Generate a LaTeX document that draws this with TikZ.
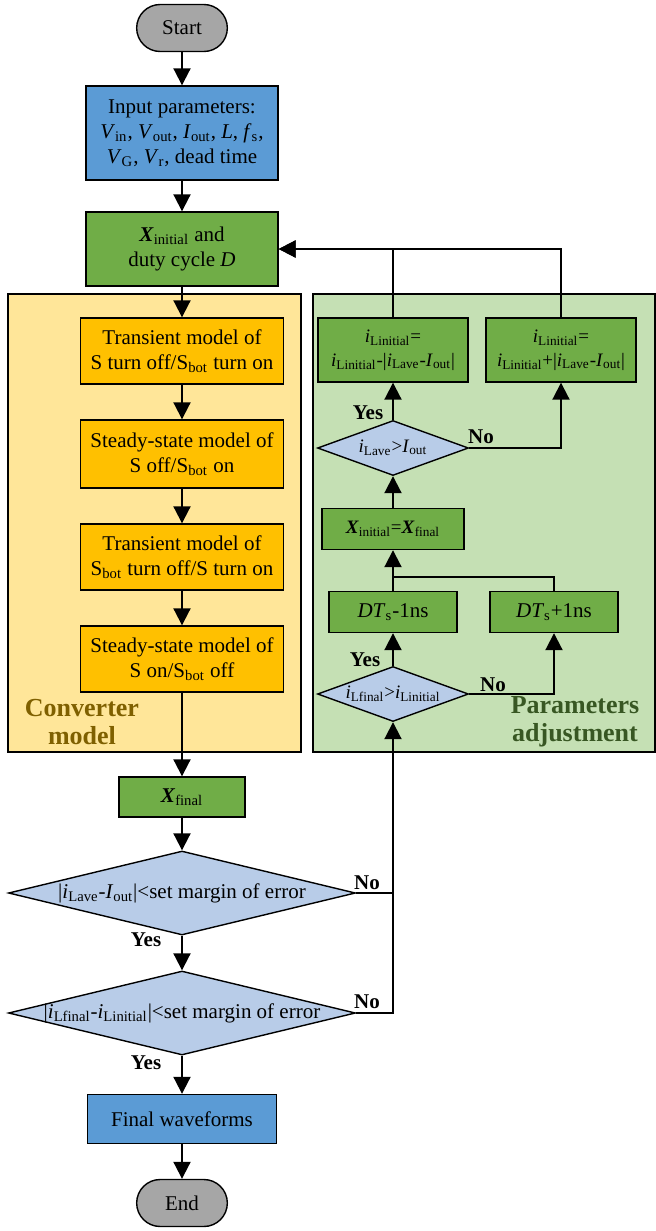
\documentclass[tikz,border=0pt]{standalone}
\usepackage{fontspec}
\setmainfont{Liberation Serif}
\usetikzlibrary{shapes.geometric,shapes.misc,arrows.meta}
\definecolor{termgray}{HTML}{A6A6A6}
\definecolor{inblue}{HTML}{5B9BD5}
\definecolor{stepgreen}{HTML}{70AD47}
\definecolor{modorange}{HTML}{FFC000}
\definecolor{convyellow}{HTML}{FFE699}
\definecolor{adjgreen}{HTML}{C5E0B4}
\definecolor{decblue}{HTML}{B8CCE8}
\definecolor{convtext}{HTML}{7F6000}
\definecolor{adjtext}{HTML}{385723}
\newcommand{\iL}[1]{\textit{i}\textsubscript{L#1}}
\newcommand{\Xb}[1]{\textbf{\textit{X}}\textsubscript{#1}}
\newcommand{\Iout}{\textit{I}\textsubscript{out}}
\begin{document}
\begin{tikzpicture}[>={Triangle[width=8.5pt,length=8.5pt]}, x=0.5pt, y=-0.5pt, line width=1pt]
\tikzstyle{every node}=[font=\fontsize{10.5}{12.5}\selectfont, line width=0.7pt]
\tikzstyle{term}=[rounded rectangle, draw, fill=termgray, minimum width=52pt, minimum height=23.5pt]
\tikzstyle{box}=[rectangle, draw, align=center, inner sep=1pt]
\tikzstyle{decide}=[diamond, draw, fill=decblue, inner sep=0pt, aspect=3]
\tikzstyle{panel}=[rectangle, draw, line width=1pt]
\tikzstyle{lbl}=[font=\fontsize{10.5}{12.5}\selectfont\bfseries, inner sep=0pt]
\tikzstyle{small}=[font=\fontsize{9.5}{12}\selectfont]
\useasboundingbox (0,0) rectangle (656,1231);
% panels
\node[panel, fill=convyellow, minimum width=146.5pt, minimum height=229pt](conv) at (154.5,523) {};
\node[panel, fill=adjgreen, minimum width=171pt, minimum height=229pt](adj) at (484,523) {};
\node[font=\fontsize{13}{14}\selectfont\bfseries, text=convtext, align=center](convlbl) at (82,722) {Converter\\model};
\node[font=\fontsize{13}{14}\selectfont\bfseries, text=adjtext, align=center](adjlbl) at (575,722) {Parameters\\adjustment};
%
\node[term](start) at (182,28) {Start};
\node[box, fill=inblue, minimum width=96pt, minimum height=47pt](input) at (182,133) {Input parameters:\\\textit{V}\textsubscript{in}, \textit{V}\textsubscript{out}, \Iout, \textit{L}, \textit{f}\textsubscript{s},\\\textit{V}\textsubscript{G}, \textit{V}\textsubscript{r}, dead time};
\node[box, fill=stepgreen, minimum width=96pt, minimum height=37pt](xinit) at (182,249) {\Xb{initial} and\\duty cycle \textit{D}};
%
\node[box, fill=modorange, minimum width=101.5pt, minimum height=33pt](m1) at (182,351) {Transient model of\\S turn off/S\textsubscript{bot} turn on};
\node[box, fill=modorange, minimum width=101.5pt, minimum height=34pt](m2) at (182,454) {Steady-state model of\\S off/S\textsubscript{bot} on};
\node[box, fill=modorange, minimum width=101.5pt, minimum height=33pt](m3) at (182,557) {Transient model of\\S\textsubscript{bot} turn off/S turn on};
\node[box, fill=modorange, minimum width=101.5pt, minimum height=33pt](m4) at (182,659) {Steady-state model of\\S on/S\textsubscript{bot} off};
%
\node[box, fill=stepgreen, minimum width=63pt, minimum height=20pt](xfin) at (182,797) {\Xb{final}};
\node[decide, minimum width=173.5pt, minimum height=42pt](d1) at (182,893) {\makebox[0pt]{|\iL{ave}-\Iout|<set margin of error}};
\node[decide, minimum width=173.5pt, minimum height=42pt](d2) at (182,1013) {\makebox[0pt]{|\iL{final}-\iL{initial}|<set margin of error}};
\node[box, fill=inblue, minimum width=94.5pt, minimum height=24.5pt](wave) at (182,1119) {Final waveforms};
\node[term](stop) at (182,1203) {End};
%
\node[box, small, fill=stepgreen, minimum width=75pt, minimum height=32pt](lm) at (393,350) {\iL{initial}=\\\iL{initial}-|\iL{ave}-\Iout|};
\node[box, small, fill=stepgreen, minimum width=75pt, minimum height=32pt](lp) at (561,350) {\iL{initial}=\\\iL{initial}+|\iL{ave}-\Iout|};
\node[decide, small, minimum width=75.5pt, minimum height=27.5pt](dave) at (393,448) {\makebox[0pt]{\iL{ave}>\Iout}};
\node[box, small, fill=stepgreen, minimum width=71pt, minimum height=20.5pt](xeq) at (393,529) {\Xb{initial}=\Xb{final}};
\node[box, fill=stepgreen, minimum width=64pt, minimum height=20.5pt](dtm) at (393,612) {\textit{DT}\textsubscript{s}-1ns};
\node[box, fill=stepgreen, minimum width=64pt, minimum height=20.5pt](dtp) at (554,612) {\textit{DT}\textsubscript{s}+1ns};
\node[decide, small, minimum width=75.5pt, minimum height=27.5pt](dfin) at (393,694) {\makebox[0pt]{\iL{final}>\iL{initial}}};
%
\node[lbl](y1) at (146,940) {Yes};
\node[lbl](y2) at (146,1063) {Yes};
\node[lbl](n1) at (367,883) {No};
\node[lbl](n2) at (367,1002) {No};
\node[lbl](y3) at (368,413) {Yes};
\node[lbl](n3) at (481,437) {No};
\node[lbl](y4) at (365,660) {Yes};
\node[lbl](n4) at (493,685) {No};
%
\draw[->] (start.south) -- (input.north);
\draw[->] (input.south) -- (xinit.north);
\draw[->] (xinit.south) -- (m1.north);
\draw[->] (m1.south) -- (m2.north);
\draw[->] (m2.south) -- (m3.north);
\draw[->] (m3.south) -- (m4.north);
\draw[->] (m4.south) -- (xfin.north);
\draw[->] (xfin.south) -- (d1.north);
\draw[->] (d1.south) -- (d2.north);
\draw[->] (d2.south) -- (wave.north);
\draw[->] (wave.south) -- (stop.north);
%
\draw (d1.east) -- (d1.east -| dfin.south);
\draw[->] (d2.east) -| (dfin.south);
\draw[->] (dfin.north) -- (dtm.south);
\draw[->] (dfin.east) -| (dtp.south);
\draw[->] (dtm.north) -- (xeq.south);
\draw (dtp.north) -- +(0,-14) -| (dtm.north);
\draw[->] (xeq.north) -- (dave.south);
\draw[->] (dave.north) -- (lm.south);
\draw[->] (dave.east) -| (lp.south);
\draw[->] (lm.north) |- (xinit.east);
\draw[->] (lp.north) |- (xinit.east);
\end{tikzpicture}
\end{document}
